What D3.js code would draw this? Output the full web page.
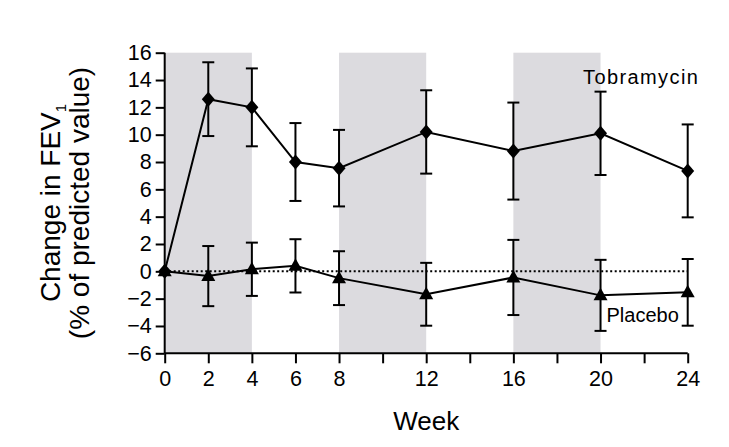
<!DOCTYPE html>
<html>
<head>
<meta charset="utf-8">
<script src="https://cdn.jsdelivr.net/npm/d3@7"></script>
<style>
  html, body { margin: 0; padding: 0; background: #fff; }
  text { font-family: "Liberation Sans", Arial, Helvetica, sans-serif; fill: #000; }
</style>
</head>
<body>
<svg id="chart" width="729" height="447"></svg>
<script>
// ---- data ----
const weeks = [0, 2, 4, 6, 8, 12, 16, 20, 24];
const tobramycinMean = [0, 12.6, 12.0, 8.0, 7.55, 10.2, 8.8, 10.1, 7.35];
const tobramycinErr  = [0, 2.7, 2.85, 2.85, 2.8, 3.05, 3.55, 3.05, 3.4];
const placeboMean = [0, -0.35, 0.15, 0.4, -0.5, -1.68, -0.45, -1.76, -1.54];
const placeboErr  = [0, 2.2, 1.95, 1.95, 1.97, 2.3, 2.75, 2.6, 2.44];
const shadedPeriods = [[0, 4], [8, 12], [16, 20]];
const yTicks = [-6, -4, -2, 0, 2, 4, 6, 8, 10, 12, 14, 16];
const xTickMarks = [0, 2, 4, 6, 8, 10, 12, 14, 16, 18, 20, 22, 24];
const xTickLabels = [0, 2, 4, 6, 8, 12, 16, 20, 24];

// ---- layout ----
const svg = d3.select("#chart");
const x = d3.scaleLinear().domain([0, 24]).range([164.7, 687.7]);
const y = d3.scaleLinear().domain([-6, 16]).range([353.3, 52.7]);

svg.append("rect").attr("width", 729).attr("height", 447).attr("fill", "#fff");

// shaded periods
svg.append("g").selectAll("rect").data(shadedPeriods).join("rect")
  .attr("x", d => x(d[0]))
  .attr("width", d => x(d[1]) - x(d[0]))
  .attr("y", y(16))
  .attr("height", y(-6) - y(16))
  .attr("fill", "#dcdbdf");

// zero reference line (dotted)
svg.append("line")
  .attr("x1", x(0)).attr("x2", x(24))
  .attr("y1", y(0)).attr("y2", y(0))
  .attr("stroke", "#000").attr("stroke-width", 2)
  .attr("stroke-dasharray", "2,2.5");

// axes
const yAxis = d3.axisLeft(y).tickValues(yTicks).tickSize(9).tickPadding(4)
  .tickFormat(d => d < 0 ? "\u2212" + Math.abs(d) : d);
const gy = svg.append("g").attr("transform", `translate(${x(0)},0)`).call(yAxis);
gy.select(".domain").attr("d", `M0,${y(16)}V${y(-6)}`).attr("stroke-width", 2);
gy.selectAll(".tick line").attr("stroke-width", 2);
gy.selectAll(".tick text").style("font-size", "21.5px")
  .style("font-family", "'Liberation Sans', Arial, sans-serif");

const xAxis = d3.axisBottom(x).tickValues(xTickMarks).tickSize(10).tickPadding(7)
  .tickFormat(d => xTickLabels.includes(d) ? d : "");
const gx = svg.append("g").attr("transform", `translate(0,${y(-6)})`).call(xAxis);
gx.select(".domain").attr("d", `M${x(0)},0H${x(24)}`).attr("stroke-width", 2);
gx.selectAll(".tick line").attr("stroke-width", 2);
gx.selectAll(".tick text").style("font-size", "21.5px")
  .style("font-family", "'Liberation Sans', Arial, sans-serif");

// series helper
function drawSeries(means, errs, shape) {
  const pts = weeks.map((w, i) => ({ w, m: means[i], e: errs[i] }));
  const g = svg.append("g");
  const eb = g.append("g").attr("stroke", "#000").attr("stroke-width", 2);
  pts.filter(p => p.e > 0).forEach(p => {
    const cx = x(p.w);
    eb.append("line").attr("x1", cx).attr("x2", cx)
      .attr("y1", y(p.m + p.e)).attr("y2", y(p.m - p.e));
    eb.append("line").attr("x1", cx - 6).attr("x2", cx + 6)
      .attr("y1", y(p.m + p.e)).attr("y2", y(p.m + p.e));
    eb.append("line").attr("x1", cx - 6).attr("x2", cx + 6)
      .attr("y1", y(p.m - p.e)).attr("y2", y(p.m - p.e));
  });
  g.append("path").datum(pts)
    .attr("fill", "none").attr("stroke", "#000").attr("stroke-width", 2)
    .attr("d", d3.line().x(p => x(p.w)).y(p => y(p.m)));
  g.append("g").selectAll("path").data(pts).join("path")
    .attr("transform", p => `translate(${x(p.w)},${y(p.m)})`)
    .attr("fill", "#000")
    .attr("d", shape);
}

const diamond = "M0,-7.5L6.5,0L0,7.5L-6.5,0Z";
const triangle = "M0,-7.5L7,5L-7,5Z";
drawSeries(placeboMean, placeboErr, triangle);
drawSeries(tobramycinMean, tobramycinErr, diamond);

// labels
svg.append("text").attr("x", 583).attr("y", 83.5)
  .style("font-size", "20px").style("letter-spacing", "1.4px")
  .text("Tobramycin");
svg.append("text").attr("x", 606.5).attr("y", 322)
  .style("font-size", "20px")
  .text("Placebo");

svg.append("text").attr("x", x(12)).attr("y", 430)
  .attr("text-anchor", "middle").style("font-size", "26px")
  .text("Week");

const yl = svg.append("text")
  .attr("transform", "translate(60,203) rotate(-90)")
  .attr("text-anchor", "middle").style("font-size", "28px");
yl.append("tspan").text("Change in FEV");
yl.append("tspan").attr("dy", 6).style("font-size", "15px").text("1");

svg.append("text")
  .attr("transform", "translate(89,203) rotate(-90)")
  .attr("text-anchor", "middle").style("font-size", "28px")
  .text("(% of predicted value)");
</script>
</body>
</html>
